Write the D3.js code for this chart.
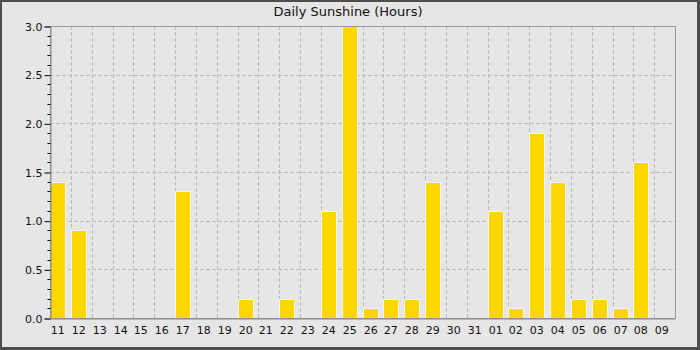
<!DOCTYPE html>
<html>
<head>
<meta charset="utf-8">
<script src="https://cdn.jsdelivr.net/npm/d3@7"></script>
<style>
  body { margin: 0; }
  svg { display: block; font-family: "DejaVu Sans", sans-serif; }
</style>
</head>
<body>
<div id="draw-space"></div>
<script>
const days = ['11','12','13','14','15','16','17','18','19','20','21','22','23','24','25',
              '26','27','28','29','30','31','01','02','03','04','05','06','07','08','09'];
const hours = [1.4, 0.9, 0, 0, 0, 0, 1.3, 0, 0, 0.2, 0, 0.2, 0, 1.1, 3.0,
               0.1, 0.2, 0.2, 1.4, 0, 0, 1.1, 0.1, 1.9, 1.4, 0.2, 0.2, 0.1, 1.6, 0];
const yTicks = [0, 0.5, 1.0, 1.5, 2.0, 2.5, 3.0];
const title = 'Daily Sunshine (Hours)';

const W = 700, H = 350;
const plotL = 50, plotR = 675, plotT = 26, plotB = 318;

const svg = d3.select('#draw-space').append('svg')
              .attr('width', W)
              .attr('height', H);

// frame
svg.append('rect').attr('width', W).attr('height', H).attr('fill', '#4d4d4d');
svg.append('rect')
   .attr('x', 2).attr('y', 2)
   .attr('width', W - 5).attr('height', H - 5)
   .attr('fill', '#e6e6e6');

svg.append('text')
   .attr('x', 348)
   .attr('y', 16)
   .attr('text-anchor', 'middle')
   .attr('font-size', 13)
   .attr('fill', '#111')
   .text(title);

const xScale = d3.scaleBand()
                 .domain(days)
                 .range([plotL, plotR]);

const yScale = d3.scaleLinear()
                 .domain([0, 3])
                 .range([plotB, plotT]);

// grid
const grid = svg.append('g')
                .attr('stroke', '#bbb')
                .attr('stroke-dasharray', '4,2')
                .attr('stroke-width', 1);

grid.selectAll('.vgrid')
    .data(days.slice(1))
    .enter()
    .append('line')
    .attr('x1', d => Math.round(xScale(d)) + 0.5)
    .attr('x2', d => Math.round(xScale(d)) + 0.5)
    .attr('y1', plotT)
    .attr('y2', plotB);

grid.selectAll('.hgrid')
    .data(yTicks.slice(1, -1))
    .enter()
    .append('line')
    .attr('x1', plotL)
    .attr('x2', plotR)
    .attr('y1', d => Math.round(yScale(d)) + 0.5)
    .attr('y2', d => Math.round(yScale(d)) + 0.5);

// bars
const barW = xScale.bandwidth() * 0.7;
svg.selectAll('.bar')
   .data(hours)
   .enter()
   .append('rect')
   .attr('class', 'bar')
   .attr('x', (d, i) => Math.round(xScale(days[i])) + 0.5)
   .attr('y', d => Math.round(yScale(d)) + 0.5)
   .attr('width', Math.round(barW))
   .attr('height', d => Math.round(yScale(0)) - Math.round(yScale(d)))
   .attr('fill', '#ffd700')
   .attr('stroke', '#f0f4ff')
   .attr('stroke-width', 1)
   .style('display', d => d > 0 ? null : 'none');

// plot border
svg.append('rect')
   .attr('x', plotL + 0.5).attr('y', plotT + 0.5)
   .attr('width', plotR - plotL).attr('height', plotB - plotT)
   .attr('fill', 'none')
   .attr('stroke', '#999');

// y axis
const yAxis = svg.append('g')
                 .attr('transform', `translate(${plotL + 0.5},0.5)`)
                 .call(d3.axisLeft(yScale)
                         .tickValues(yTicks)
                         .tickSize(6)
                         .tickFormat(d3.format('.1f')));

const minor = d3.range(0, 31).map(d => d / 10).filter(d => Math.round(d * 10) % 5 !== 0);
svg.append('g')
   .attr('transform', `translate(${plotL + 0.5},0.5)`)
   .selectAll('line')
   .data(minor)
   .enter()
   .append('line')
   .attr('x1', -3)
   .attr('x2', 0)
   .attr('y1', d => Math.round(yScale(d)))
   .attr('y2', d => Math.round(yScale(d)))
   .attr('stroke', '#000');

yAxis.select('.domain').attr('stroke', '#888');
yAxis.selectAll('.tick line').attr('stroke', '#000');
yAxis.selectAll('.tick text')
     .attr('font-size', 11)
     .attr('font-family', '"DejaVu Sans", sans-serif')
     .attr('fill', '#111')
     .attr('x', -8);

// x axis
const xAxis = svg.append('g')
                 .attr('transform', `translate(0,${plotB + 0.5})`)
                 .call(d3.axisBottom(xScale).tickSize(0).tickPadding(8));

xAxis.select('.domain').attr('stroke', '#888');
xAxis.selectAll('.tick')
     .attr('transform', d => `translate(${Math.round(xScale(d)) + barW / 2 + 0.5},0)`);
xAxis.selectAll('.tick text')
     .attr('font-size', 11)
     .attr('font-family', '"DejaVu Sans", sans-serif')
     .attr('fill', '#111');
</script>
</body>
</html>
